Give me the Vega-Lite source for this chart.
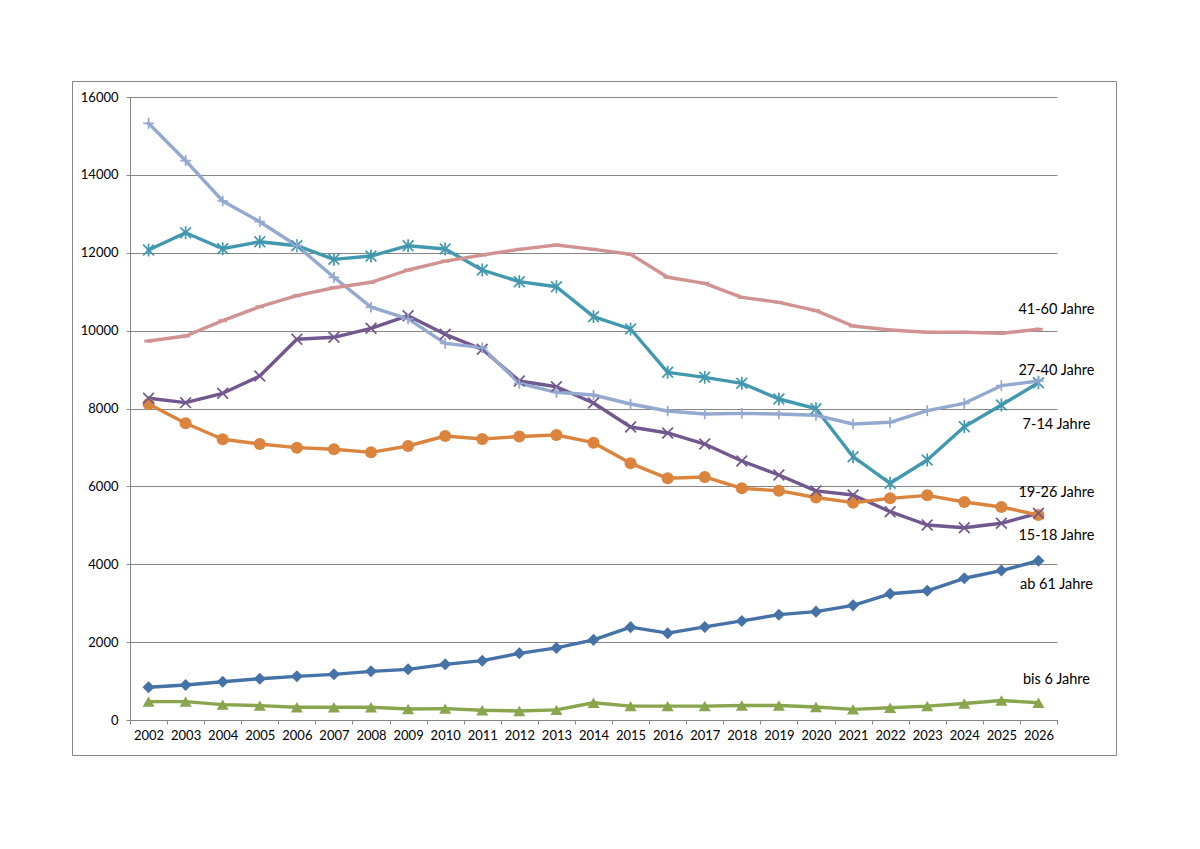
{
  "$schema": "https://vega.github.io/schema/vega-lite/v6.json",
  "width": 1044,
  "height": 674,
  "autosize": {"type": "none"},
  "padding": {"left": 72, "top": 81, "right": 84, "bottom": 94},
  "background": "white",
  "config": {
    "view": {"stroke": "#868686", "strokeWidth": 1},
    "font": "Lato"
  },
  "datasets": {
    "series": [
      {"year": "2002", "group": "ab 61 Jahre", "value": 840},
      {"year": "2003", "group": "ab 61 Jahre", "value": 899},
      {"year": "2004", "group": "ab 61 Jahre", "value": 984},
      {"year": "2005", "group": "ab 61 Jahre", "value": 1061},
      {"year": "2006", "group": "ab 61 Jahre", "value": 1121},
      {"year": "2007", "group": "ab 61 Jahre", "value": 1173},
      {"year": "2008", "group": "ab 61 Jahre", "value": 1250},
      {"year": "2009", "group": "ab 61 Jahre", "value": 1301},
      {"year": "2010", "group": "ab 61 Jahre", "value": 1430},
      {"year": "2011", "group": "ab 61 Jahre", "value": 1524},
      {"year": "2012", "group": "ab 61 Jahre", "value": 1712},
      {"year": "2013", "group": "ab 61 Jahre", "value": 1852},
      {"year": "2014", "group": "ab 61 Jahre", "value": 2058},
      {"year": "2015", "group": "ab 61 Jahre", "value": 2385},
      {"year": "2016", "group": "ab 61 Jahre", "value": 2230},
      {"year": "2017", "group": "ab 61 Jahre", "value": 2390},
      {"year": "2018", "group": "ab 61 Jahre", "value": 2545},
      {"year": "2019", "group": "ab 61 Jahre", "value": 2705},
      {"year": "2020", "group": "ab 61 Jahre", "value": 2783},
      {"year": "2021", "group": "ab 61 Jahre", "value": 2944},
      {"year": "2022", "group": "ab 61 Jahre", "value": 3242},
      {"year": "2023", "group": "ab 61 Jahre", "value": 3319},
      {"year": "2024", "group": "ab 61 Jahre", "value": 3640},
      {"year": "2025", "group": "ab 61 Jahre", "value": 3838},
      {"year": "2026", "group": "ab 61 Jahre", "value": 4090},

      {"year": "2002", "group": "bis 6 Jahre", "value": 472},
      {"year": "2003", "group": "bis 6 Jahre", "value": 472},
      {"year": "2004", "group": "bis 6 Jahre", "value": 395},
      {"year": "2005", "group": "bis 6 Jahre", "value": 369},
      {"year": "2006", "group": "bis 6 Jahre", "value": 326},
      {"year": "2007", "group": "bis 6 Jahre", "value": 326},
      {"year": "2008", "group": "bis 6 Jahre", "value": 326},
      {"year": "2009", "group": "bis 6 Jahre", "value": 283},
      {"year": "2010", "group": "bis 6 Jahre", "value": 292},
      {"year": "2011", "group": "bis 6 Jahre", "value": 249},
      {"year": "2012", "group": "bis 6 Jahre", "value": 232},
      {"year": "2013", "group": "bis 6 Jahre", "value": 260},
      {"year": "2014", "group": "bis 6 Jahre", "value": 443},
      {"year": "2015", "group": "bis 6 Jahre", "value": 357},
      {"year": "2016", "group": "bis 6 Jahre", "value": 357},
      {"year": "2017", "group": "bis 6 Jahre", "value": 357},
      {"year": "2018", "group": "bis 6 Jahre", "value": 374},
      {"year": "2019", "group": "bis 6 Jahre", "value": 374},
      {"year": "2020", "group": "bis 6 Jahre", "value": 332},
      {"year": "2021", "group": "bis 6 Jahre", "value": 272},
      {"year": "2022", "group": "bis 6 Jahre", "value": 315},
      {"year": "2023", "group": "bis 6 Jahre", "value": 357},
      {"year": "2024", "group": "bis 6 Jahre", "value": 425},
      {"year": "2025", "group": "bis 6 Jahre", "value": 502},
      {"year": "2026", "group": "bis 6 Jahre", "value": 443},

      {"year": "2002", "group": "15-18 Jahre", "value": 8262},
      {"year": "2003", "group": "15-18 Jahre", "value": 8150},
      {"year": "2004", "group": "15-18 Jahre", "value": 8390},
      {"year": "2005", "group": "15-18 Jahre", "value": 8835},
      {"year": "2006", "group": "15-18 Jahre", "value": 9777},
      {"year": "2007", "group": "15-18 Jahre", "value": 9828},
      {"year": "2008", "group": "15-18 Jahre", "value": 10059},
      {"year": "2009", "group": "15-18 Jahre", "value": 10383},
      {"year": "2010", "group": "15-18 Jahre", "value": 9905},
      {"year": "2011", "group": "15-18 Jahre", "value": 9520},
      {"year": "2012", "group": "15-18 Jahre", "value": 8706},
      {"year": "2013", "group": "15-18 Jahre", "value": 8560},
      {"year": "2014", "group": "15-18 Jahre", "value": 8141},
      {"year": "2015", "group": "15-18 Jahre", "value": 7525},
      {"year": "2016", "group": "15-18 Jahre", "value": 7371},
      {"year": "2017", "group": "15-18 Jahre", "value": 7088},
      {"year": "2018", "group": "15-18 Jahre", "value": 6652},
      {"year": "2019", "group": "15-18 Jahre", "value": 6292},
      {"year": "2020", "group": "15-18 Jahre", "value": 5885},
      {"year": "2021", "group": "15-18 Jahre", "value": 5778},
      {"year": "2022", "group": "15-18 Jahre", "value": 5350},
      {"year": "2023", "group": "15-18 Jahre", "value": 5008},
      {"year": "2024", "group": "15-18 Jahre", "value": 4939},
      {"year": "2025", "group": "15-18 Jahre", "value": 5052},
      {"year": "2026", "group": "15-18 Jahre", "value": 5310},

      {"year": "2002", "group": "7-14 Jahre", "value": 12070},
      {"year": "2003", "group": "7-14 Jahre", "value": 12515},
      {"year": "2004", "group": "7-14 Jahre", "value": 12104},
      {"year": "2005", "group": "7-14 Jahre", "value": 12284},
      {"year": "2006", "group": "7-14 Jahre", "value": 12181},
      {"year": "2007", "group": "7-14 Jahre", "value": 11831},
      {"year": "2008", "group": "7-14 Jahre", "value": 11916},
      {"year": "2009", "group": "7-14 Jahre", "value": 12181},
      {"year": "2010", "group": "7-14 Jahre", "value": 12096},
      {"year": "2011", "group": "7-14 Jahre", "value": 11557},
      {"year": "2012", "group": "7-14 Jahre", "value": 11257},
      {"year": "2013", "group": "7-14 Jahre", "value": 11128},
      {"year": "2014", "group": "7-14 Jahre", "value": 10358},
      {"year": "2015", "group": "7-14 Jahre", "value": 10042},
      {"year": "2016", "group": "7-14 Jahre", "value": 8929},
      {"year": "2017", "group": "7-14 Jahre", "value": 8801},
      {"year": "2018", "group": "7-14 Jahre", "value": 8647},
      {"year": "2019", "group": "7-14 Jahre", "value": 8244},
      {"year": "2020", "group": "7-14 Jahre", "value": 7995},
      {"year": "2021", "group": "7-14 Jahre", "value": 6762},
      {"year": "2022", "group": "7-14 Jahre", "value": 6079},
      {"year": "2023", "group": "7-14 Jahre", "value": 6677},
      {"year": "2024", "group": "7-14 Jahre", "value": 7533},
      {"year": "2025", "group": "7-14 Jahre", "value": 8090},
      {"year": "2026", "group": "7-14 Jahre", "value": 8662},

      {"year": "2002", "group": "19-26 Jahre", "value": 8115},
      {"year": "2003", "group": "19-26 Jahre", "value": 7620},
      {"year": "2004", "group": "19-26 Jahre", "value": 7209},
      {"year": "2005", "group": "19-26 Jahre", "value": 7088},
      {"year": "2006", "group": "19-26 Jahre", "value": 6994},
      {"year": "2007", "group": "19-26 Jahre", "value": 6952},
      {"year": "2008", "group": "19-26 Jahre", "value": 6874},
      {"year": "2009", "group": "19-26 Jahre", "value": 7037},
      {"year": "2010", "group": "19-26 Jahre", "value": 7294},
      {"year": "2011", "group": "19-26 Jahre", "value": 7217},
      {"year": "2012", "group": "19-26 Jahre", "value": 7280},
      {"year": "2013", "group": "19-26 Jahre", "value": 7319},
      {"year": "2014", "group": "19-26 Jahre", "value": 7122},
      {"year": "2015", "group": "19-26 Jahre", "value": 6592},
      {"year": "2016", "group": "19-26 Jahre", "value": 6207},
      {"year": "2017", "group": "19-26 Jahre", "value": 6241},
      {"year": "2018", "group": "19-26 Jahre", "value": 5950},
      {"year": "2019", "group": "19-26 Jahre", "value": 5889},
      {"year": "2020", "group": "19-26 Jahre", "value": 5715},
      {"year": "2021", "group": "19-26 Jahre", "value": 5581},
      {"year": "2022", "group": "19-26 Jahre", "value": 5693},
      {"year": "2023", "group": "19-26 Jahre", "value": 5770},
      {"year": "2024", "group": "19-26 Jahre", "value": 5599},
      {"year": "2025", "group": "19-26 Jahre", "value": 5470},
      {"year": "2026", "group": "19-26 Jahre", "value": 5265},

      {"year": "2002", "group": "27-40 Jahre", "value": 15324},
      {"year": "2003", "group": "27-40 Jahre", "value": 14364},
      {"year": "2004", "group": "27-40 Jahre", "value": 13329},
      {"year": "2005", "group": "27-40 Jahre", "value": 12797},
      {"year": "2006", "group": "27-40 Jahre", "value": 12181},
      {"year": "2007", "group": "27-40 Jahre", "value": 11370},
      {"year": "2008", "group": "27-40 Jahre", "value": 10605},
      {"year": "2009", "group": "27-40 Jahre", "value": 10300},
      {"year": "2010", "group": "27-40 Jahre", "value": 9674},
      {"year": "2011", "group": "27-40 Jahre", "value": 9562},
      {"year": "2012", "group": "27-40 Jahre", "value": 8647},
      {"year": "2013", "group": "27-40 Jahre", "value": 8416},
      {"year": "2014", "group": "27-40 Jahre", "value": 8347},
      {"year": "2015", "group": "27-40 Jahre", "value": 8115},
      {"year": "2016", "group": "27-40 Jahre", "value": 7936},
      {"year": "2017", "group": "27-40 Jahre", "value": 7859},
      {"year": "2018", "group": "27-40 Jahre", "value": 7876},
      {"year": "2019", "group": "27-40 Jahre", "value": 7859},
      {"year": "2020", "group": "27-40 Jahre", "value": 7825},
      {"year": "2021", "group": "27-40 Jahre", "value": 7602},
      {"year": "2022", "group": "27-40 Jahre", "value": 7646},
      {"year": "2023", "group": "27-40 Jahre", "value": 7944},
      {"year": "2024", "group": "27-40 Jahre", "value": 8133},
      {"year": "2025", "group": "27-40 Jahre", "value": 8586},
      {"year": "2026", "group": "27-40 Jahre", "value": 8706},

      {"year": "2002", "group": "41-60 Jahre", "value": 9733},
      {"year": "2003", "group": "41-60 Jahre", "value": 9862},
      {"year": "2004", "group": "41-60 Jahre", "value": 10255},
      {"year": "2005", "group": "41-60 Jahre", "value": 10614},
      {"year": "2006", "group": "41-60 Jahre", "value": 10897},
      {"year": "2007", "group": "41-60 Jahre", "value": 11102},
      {"year": "2008", "group": "41-60 Jahre", "value": 11241},
      {"year": "2009", "group": "41-60 Jahre", "value": 11557},
      {"year": "2010", "group": "41-60 Jahre", "value": 11785},
      {"year": "2011", "group": "41-60 Jahre", "value": 11942},
      {"year": "2012", "group": "41-60 Jahre", "value": 12088},
      {"year": "2013", "group": "41-60 Jahre", "value": 12199},
      {"year": "2014", "group": "41-60 Jahre", "value": 12088},
      {"year": "2015", "group": "41-60 Jahre", "value": 11960},
      {"year": "2016", "group": "41-60 Jahre", "value": 11370},
      {"year": "2017", "group": "41-60 Jahre", "value": 11215},
      {"year": "2018", "group": "41-60 Jahre", "value": 10855},
      {"year": "2019", "group": "41-60 Jahre", "value": 10727},
      {"year": "2020", "group": "41-60 Jahre", "value": 10512},
      {"year": "2021", "group": "41-60 Jahre", "value": 10119},
      {"year": "2022", "group": "41-60 Jahre", "value": 10016},
      {"year": "2023", "group": "41-60 Jahre", "value": 9957},
      {"year": "2024", "group": "41-60 Jahre", "value": 9957},
      {"year": "2025", "group": "41-60 Jahre", "value": 9931},
      {"year": "2026", "group": "41-60 Jahre", "value": 10034}
    ],
    "labels": [
      {"year": "2026", "label": "41-60 Jahre", "value": 10530},
      {"year": "2026", "label": "27-40 Jahre", "value": 8963},
      {"year": "2026", "label": "7-14 Jahre", "value": 7576},
      {"year": "2026", "label": "19-26 Jahre", "value": 5830},
      {"year": "2026", "label": "15-18 Jahre", "value": 4725},
      {"year": "2026", "label": "ab 61 Jahre", "value": 3467},
      {"year": "2026", "label": "bis 6 Jahre", "value": 1027}
    ]
  },
  "layer": [
    {
      "data": {"name": "series"},
      "mark": {"type": "line", "strokeWidth": 3.4, "strokeJoin": "round", "strokeCap": "round"},
      "encoding": {
        "x": {
          "field": "year",
          "type": "ordinal",
          "scale": {"range": [58, 985], "paddingInner": 0, "paddingOuter": 0},
          "axis": {
            "title": null,
            "tickBand": "extent",
            "offset": -35,
            "grid": false,
            "labelAngle": 0,
            "labelFontSize": 13,
            "labelFont": "Lato",
            "labelColor": "black",
            "labelPadding": 5,
            "domainColor": "#868686",
            "tickColor": "#868686",
            "tickSize": 4
          }
        },
        "y": {
          "field": "value",
          "type": "quantitative",
          "scale": {"domain": [0, 16000], "range": [639, 16], "nice": false, "zero": true},
          "axis": {
            "title": null,
            "values": [0, 2000, 4000, 6000, 8000, 10000, 12000, 14000, 16000],
            "format": "d",
            "offset": -58,
            "grid": true,
            "gridColor": "#868686",
            "gridWidth": 1.2,
            "labelFontSize": 13,
            "labelFont": "Lato",
            "labelColor": "black",
            "labelPadding": 8,
            "domainColor": "#868686",
            "tickColor": "#868686",
            "tickSize": 4
          }
        },
        "color": {
          "field": "group",
          "type": "nominal",
          "scale": {
            "domain": ["ab 61 Jahre", "bis 6 Jahre", "15-18 Jahre", "7-14 Jahre", "19-26 Jahre", "27-40 Jahre", "41-60 Jahre"],
            "range": ["#4572A7", "#89A54E", "#71588F", "#4198AF", "#DB843D", "#93A9CF", "#D19392"]
          },
          "legend": null
        }
      }
    },
    {
      "data": {"name": "series"},
      "transform": [{"filter": {"field": "group", "oneOf": ["ab 61 Jahre", "bis 6 Jahre", "19-26 Jahre", "41-60 Jahre"]}}],
      "mark": {"type": "point", "filled": true, "opacity": 1, "size": 145},
      "encoding": {
        "x": {"field": "year", "type": "ordinal"},
        "y": {"field": "value", "type": "quantitative"},
        "color": {"field": "group", "type": "nominal", "legend": null},
        "shape": {
          "field": "group",
          "type": "nominal",
          "scale": {
            "domain": ["ab 61 Jahre", "bis 6 Jahre", "15-18 Jahre", "7-14 Jahre", "19-26 Jahre", "27-40 Jahre", "41-60 Jahre"],
            "range": ["diamond", "triangle-up", "M-1,-1L1,1M1,-1L-1,1", "M-1,-1L1,1M1,-1L-1,1M0,-1.2L0,1.2", "circle", "M-1,0L1,0M0,-1L0,1", "M-0.7,-0.25L0.7,-0.25L0.7,0.25L-0.7,0.25Z"]
          },
          "legend": null
        }
      }
    },
    {
      "data": {"name": "series"},
      "transform": [{"filter": {"field": "group", "oneOf": ["15-18 Jahre", "7-14 Jahre", "27-40 Jahre"]}}],
      "mark": {"type": "point", "filled": false, "opacity": 1, "size": 115, "strokeWidth": 1.7},
      "encoding": {
        "x": {"field": "year", "type": "ordinal"},
        "y": {"field": "value", "type": "quantitative"},
        "color": {"field": "group", "type": "nominal", "legend": null},
        "shape": {"field": "group", "type": "nominal", "legend": null}
      }
    },
    {
      "data": {"name": "labels"},
      "mark": {"type": "text", "align": "center", "baseline": "middle", "dx": 18, "fontSize": 14.5, "font": "Lato", "color": "black"},
      "encoding": {
        "x": {"field": "year", "type": "ordinal"},
        "y": {"field": "value", "type": "quantitative"},
        "text": {"field": "label"}
      }
    }
  ]
}
